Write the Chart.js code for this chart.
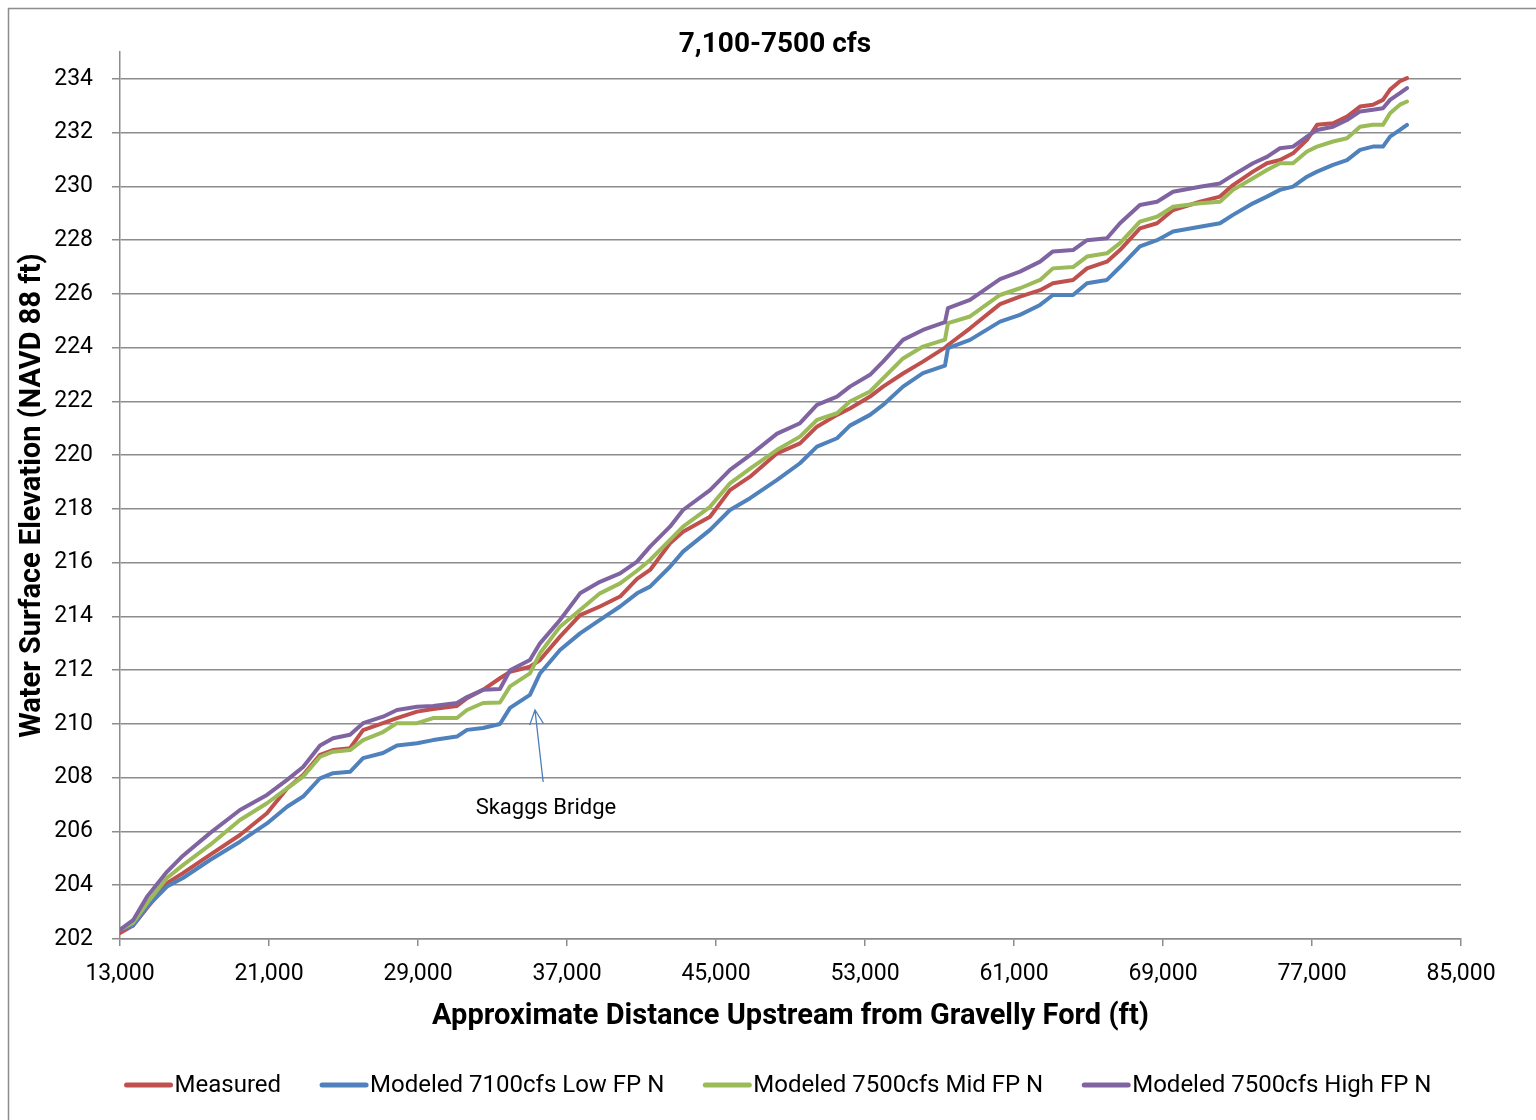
<!DOCTYPE html>
<html>
<head>
<meta charset="utf-8">
<title>7,100-7500 cfs</title>
<script src="https://cdn.jsdelivr.net/npm/chart.js@4.4.1/dist/chart.umd.min.js"></script>
<style>
  html, body { margin: 0; padding: 0; background: #fff; }
  #wrap { width: 1536px; height: 1120px; }
</style>
</head>
<body>
<div id="wrap"><canvas id="chart" width="1536" height="1120"></canvas></div>
<script>
// ── data ────────────────────────────────────────────────────
const distance = [
  13000, 13700, 14450, 15520, 16380, 17830, 19440, 20890, 21970, 22830,
  23740, 24440, 25350, 26050, 27120, 27870, 28950, 29810, 31090, 31630,
  32490, 33400, 33940, 35010, 35550, 36625, 37700, 38770, 39850, 40760,
  41460, 42530, 43230, 44680, 45750, 46830, 48280, 49510, 50420, 51500,
  52190, 53270, 53970, 55040, 56110, 57295, 57455, 58640, 60250, 61320,
  62400, 63090, 64170, 64920, 65990, 66690, 67760, 68680, 69540, 70990,
  72060, 72760, 73830, 74580, 75280, 75980, 76730, 77270, 78130, 78880,
  79580, 80270, 80810, 81190, 81720, 82100
];

const measured = [
  202.22, 202.5, 203.15, 204.08, 204.45, 205.13, 205.87, 206.68, 207.6, 208.1,
  208.85, 209.03, 209.1, 209.77, 210.03, 210.22, 210.46, 210.56, 210.67, 210.96,
  211.27, 211.7, 211.94, 212.13, 212.38, 213.25, 214.05, 214.37, 214.74, 215.4,
  215.73, 216.72, 217.15, 217.71, 218.7, 219.2, 220.07, 220.44, 221.06, 221.5,
  221.74, 222.18, 222.55, 223.04, 223.48, 224.0, 224.1, 224.72, 225.62, 225.9,
  226.14, 226.4, 226.52, 226.95, 227.2, 227.63, 228.44, 228.63, 229.12, 229.43,
  229.62, 230.05, 230.55, 230.86, 230.98, 231.23, 231.73, 232.29, 232.35, 232.6,
  232.97, 233.04, 233.22, 233.6, 233.91, 234.03
];

const lowFP = [
  202.35, 202.5, 203.2, 203.95, 204.27, 204.94, 205.62, 206.3, 206.92, 207.3,
  207.98, 208.17, 208.22, 208.73, 208.92, 209.2, 209.28, 209.4, 209.53, 209.78,
  209.85, 210.0, 210.6, 211.08, 211.88, 212.75, 213.37, 213.87, 214.37, 214.86,
  215.11, 215.85, 216.41, 217.22, 217.96, 218.4, 219.08, 219.7, 220.32, 220.63,
  221.1, 221.5, 221.87, 222.55, 223.05, 223.33, 223.98, 224.29, 224.97, 225.22,
  225.59, 225.96, 225.96, 226.4, 226.52, 227.0, 227.77, 228.0, 228.32, 228.5,
  228.63, 228.94, 229.37, 229.62, 229.87, 229.99, 230.36, 230.55, 230.8, 230.98,
  231.36, 231.48, 231.48, 231.85, 232.1, 232.29
];

const midFP = [
  202.35, 202.6, 203.33, 204.27, 204.75, 205.5, 206.43, 207.05, 207.6, 208.04,
  208.78, 208.97, 209.03, 209.4, 209.7, 210.03, 210.03, 210.22, 210.22, 210.52,
  210.78, 210.8, 211.4, 211.88, 212.63, 213.62, 214.24, 214.86, 215.23, 215.7,
  216.1, 216.85, 217.34, 218.08, 218.95, 219.5, 220.2, 220.69, 221.31, 221.56,
  222.0, 222.37, 222.86, 223.6, 224.04, 224.3, 224.91, 225.16, 225.96, 226.21,
  226.52, 226.95, 227.0, 227.39, 227.51, 227.89, 228.69, 228.87, 229.24, 229.37,
  229.43, 229.87, 230.3, 230.61, 230.86, 230.86, 231.3, 231.48, 231.67, 231.79,
  232.22, 232.29, 232.29, 232.72, 233.04, 233.16
];

const highFP = [
  202.35, 202.7, 203.57, 204.5, 205.1, 205.94, 206.8, 207.36, 207.92, 208.4,
  209.2, 209.47, 209.6, 210.03, 210.27, 210.52, 210.64, 210.67, 210.78, 211.0,
  211.27, 211.3, 212.0, 212.38, 213.0, 213.87, 214.86, 215.29, 215.6, 216.04,
  216.6, 217.34, 217.96, 218.7, 219.45, 220.0, 220.8, 221.19, 221.87, 222.18,
  222.55, 222.99, 223.48, 224.29, 224.66, 224.95, 225.47, 225.78, 226.55, 226.83,
  227.2, 227.58, 227.63, 228.0, 228.07, 228.63, 229.31, 229.43, 229.8, 229.99,
  230.11, 230.42, 230.86, 231.1, 231.42, 231.48, 231.85, 232.1, 232.22, 232.47,
  232.79, 232.85, 232.91, 233.22, 233.47, 233.66
];

const seriesNames  = ['Measured', 'Modeled 7100cfs Low FP N', 'Modeled 7500cfs Mid FP N', 'Modeled 7500cfs High FP N'];
const seriesValues = [measured, lowFP, midFP, highFP];
const seriesColors = ['#C0504D', '#4F81BD', '#9BBB59', '#8064A2'];

const chartTitle = '7,100-7500 cfs';
const xTitle = 'Approximate Distance Upstream from Gravelly Ford (ft)';
const yTitle = 'Water Surface Elevation (NAVD 88 ft)';

// Skaggs Bridge callout (data coordinates)
const bridgeLabel = 'Skaggs Bridge';
const bridgeTip   = { x: 35280, y: 210.52 };
const bridgeTail  = { x: 35720, y: 207.84 };
const bridgeText  = { x: 35870, y: 206.85 };

// ── styles ─────────────────────────────────────────────────
const FONT = 'Roboto, "Liberation Sans", sans-serif';
const GRID = '#8c8c8c';

const datasets = seriesNames.map((name, i) => ({
  label: name,
  data: distance.map((d, j) => ({ x: d, y: seriesValues[i][j] })),
  borderColor: seriesColors[i],
  backgroundColor: seriesColors[i],
  borderWidth: 4,
  pointRadius: 0,
  tension: 0,
  fill: false,
  borderJoinStyle: 'round',
  borderCapStyle: 'round',
  order: seriesNames.length - 1 - i   // later series on top, as in the original
}));

// frame, title, legend and callout
const decorations = {
  id: 'decorations',
  beforeDraw(chart) {
    const c = chart.ctx;
    c.save();
    c.fillStyle = '#fff';
    c.fillRect(0, 0, chart.width, chart.height);
    c.strokeStyle = '#8c8c8c';
    c.lineWidth = 1.5;
    c.strokeRect(8.5, 8.5, chart.width + 20, chart.height + 20);
    c.restore();
  },
  afterDraw(chart) {
    const c = chart.ctx;
    const xs = chart.scales.x, ys = chart.scales.y;
    c.save();

    // title
    c.fillStyle = '#000';
    c.font = 'bold 28px ' + FONT;
    c.textAlign = 'center';
    c.textBaseline = 'middle';
    c.fillText(chartTitle, 775, 45);

    // callout arrow
    const tx = xs.getPixelForValue(bridgeTip.x), ty = ys.getPixelForValue(bridgeTip.y);
    const bx = xs.getPixelForValue(bridgeTail.x), by = ys.getPixelForValue(bridgeTail.y);
    c.strokeStyle = '#4a7ebb';
    c.lineWidth = 1.3;
    c.beginPath();
    c.moveTo(bx, by);
    c.lineTo(tx, ty);
    const ang = Math.atan2(ty - by, tx - bx);
    c.moveTo(tx - 16 * Math.cos(ang - 0.45), ty - 16 * Math.sin(ang - 0.45));
    c.lineTo(tx, ty);
    c.lineTo(tx - 16 * Math.cos(ang + 0.45), ty - 16 * Math.sin(ang + 0.45));
    c.stroke();

    c.fillStyle = '#000';
    c.font = '22px ' + FONT;
    c.textAlign = 'center';
    c.textBaseline = 'middle';
    c.fillText(bridgeLabel, xs.getPixelForValue(bridgeText.x), ys.getPixelForValue(bridgeText.y));

    // legend
    c.font = '24px ' + FONT;
    const sample = 48, gap = 2, between = 39;
    const widths = seriesNames.map(n => c.measureText(n).width);
    const total = widths.reduce((s, w) => s + sample + gap + w, 0) + between * (seriesNames.length - 1);
    let x = 778 - total / 2;
    const ly = 1085;
    c.textAlign = 'left';
    seriesNames.forEach((n, i) => {
      c.strokeStyle = seriesColors[i];
      c.lineWidth = 5;
      c.lineCap = 'round';
      c.beginPath();
      c.moveTo(x + 2, ly);
      c.lineTo(x + sample - 2, ly);
      c.stroke();
      c.fillStyle = '#000';
      c.fillText(n, x + sample + gap, ly + 1);
      x += sample + gap + widths[i] + between;
    });
    c.restore();
  }
};

new Chart(document.getElementById('chart'), {
  type: 'line',
  data: { datasets },
  options: {
    responsive: false,
    animation: false,
    devicePixelRatio: 1,
    layout: { padding: { top: 52, right: 75, bottom: 81, left: 0 } },
    plugins: {
      legend: { display: false },
      title: { display: false },
      tooltip: { enabled: false }
    },
    scales: {
      x: {
        type: 'linear',
        min: 13000,
        max: 85000,
        ticks: {
          stepSize: 8000,
          color: '#000',
          font: { family: FONT, size: 23 },
          padding: 14,
          maxRotation: 0,
          autoSkip: false,
          callback: v => v.toLocaleString('en-US')
        },
        grid: { drawOnChartArea: false, color: GRID, lineWidth: 1.5, tickLength: 7 },
        border: { color: GRID, width: 1.5 },
        title: {
          display: true,
          text: xTitle,
          color: '#000',
          font: { family: FONT, size: 29, weight: 'bold' },
          padding: { top: 0, bottom: 5 }
        },
        afterFit: s => { s.height = 100; }
      },
      y: {
        min: 202,
        max: 235,
        ticks: {
          stepSize: 2,
          includeBounds: false,
          color: '#000',
          font: { family: FONT, size: 23 },
          padding: 19
        },
        afterBuildTicks: s => { s.ticks = s.ticks.filter(t => t.value <= 234); },
        grid: { color: GRID, lineWidth: 1.5, tickLength: 8 },
        border: { color: GRID, width: 1.5 },
        title: {
          display: true,
          text: yTitle,
          color: '#000',
          font: { family: FONT, size: 29, weight: 'bold' },
          padding: { top: 15, bottom: 0 }
        },
        afterFit: s => { s.width = 120; }
      }
    }
  },
  plugins: [decorations]
});
</script>
</body>
</html>
